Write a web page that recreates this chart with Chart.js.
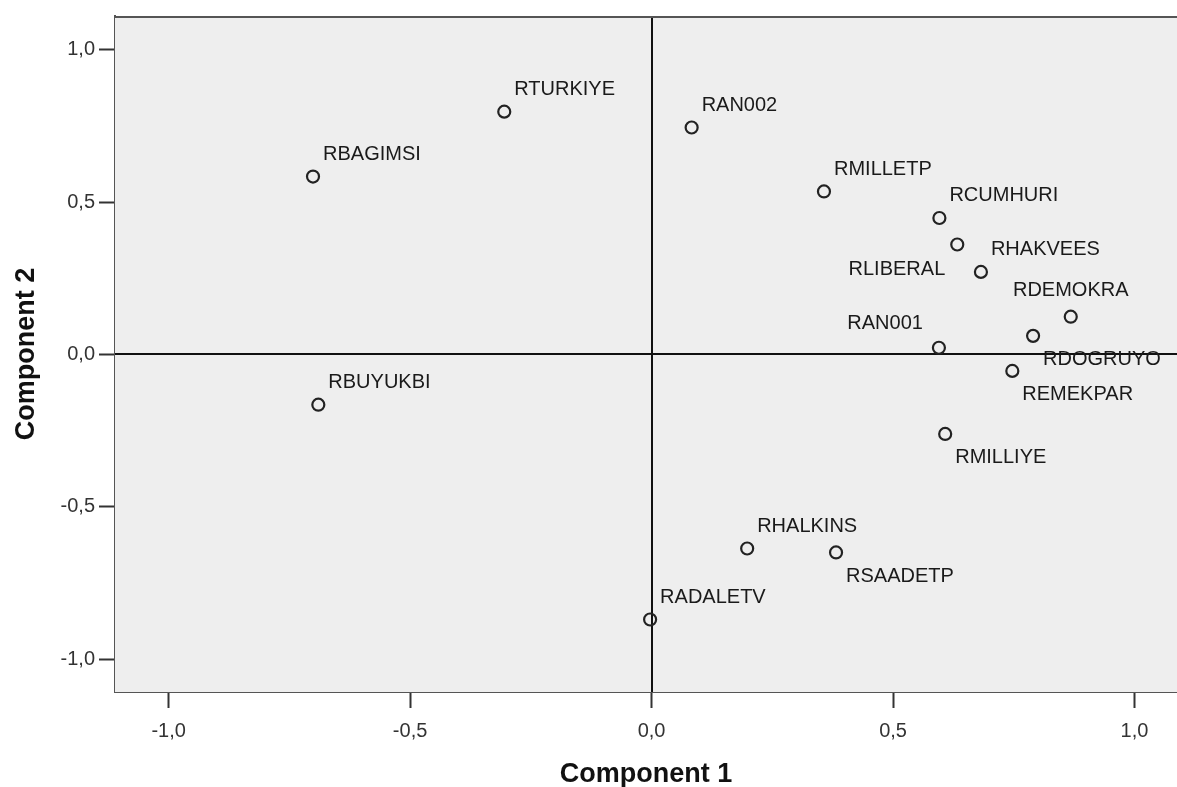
<!DOCTYPE html>
<html>
<head>
<meta charset="utf-8">
<script src="https://cdn.jsdelivr.net/npm/chart.js@4/dist/chart.umd.min.js"></script>
<style>
  html, body { margin: 0; padding: 0; background: #fff; overflow: hidden; }
  canvas { display: block; }
</style>
</head>
<body>
<canvas id="plot" width="1177" height="787"></canvas>
<script>
// component plot in rotated space — loadings
const names = ["RTURKIYE", "RAN002", "RBAGIMSI", "RMILLETP", "RCUMHURI", "RLIBERAL",
  "RHAKVEES", "RDEMOKRA", "RDOGRUYO", "RAN001", "REMEKPAR", "RBUYUKBI",
  "RMILLIYE", "RHALKINS", "RSAADETP", "RADALETV"];
const comp1 = [-0.305, 0.083, -0.701, 0.357, 0.596, 0.633,
  0.682, 0.868, 0.790, 0.595, 0.747, -0.690,
  0.608, 0.198, 0.382, -0.003];
const comp2 = [0.797, 0.745, 0.584, 0.535, 0.448, 0.361,
  0.271, 0.124, 0.061, 0.022, -0.054, -0.165,
  -0.261, -0.637, -0.650, -0.870];
const xTicks = [-1, -0.5, 0, 0.5, 1];
const yTicks = [-1, -0.5, 0, 0.5, 1];

// where each label sits relative to its marker (default: top-right)
const PLACE = { RDOGRUYO: "br", REMEKPAR: "br", RMILLIYE: "br", RSAADETP: "br",
  RLIBERAL: "bl", RAN001: "tl", RDEMOKRA: "tc" };
const OFFS = { tr: [10, -22, "left"], br: [10, 24, "left"], bl: [-12, 25, "right"],
  tl: [-16, -24, "right"], tc: [0, -26, "center"] };

const fmt = (v) => v.toFixed(1).replace(".", ",");

const frame = {
  id: "frame",
  beforeDatasetsDraw(chart) {
    const { ctx, chartArea: a, scales: { x, y } } = chart;
    ctx.save();
    ctx.fillStyle = "#eeeeee";
    ctx.fillRect(a.left, a.top, a.right - a.left, a.bottom - a.top);
    ctx.strokeStyle = "#111";
    ctx.lineWidth = 2;
    const x0 = Math.round(x.getPixelForValue(0)), y0 = Math.round(y.getPixelForValue(0));
    ctx.beginPath();
    ctx.moveTo(x0, a.top); ctx.lineTo(x0, a.bottom);
    ctx.moveTo(a.left, y0); ctx.lineTo(a.right, y0);
    ctx.stroke();
    ctx.strokeStyle = "#555";
    ctx.lineWidth = 2;
    ctx.beginPath();
    ctx.moveTo(a.left, a.top + 1); ctx.lineTo(a.right, a.top + 1);
    ctx.stroke();
    ctx.restore();
  },
  afterDatasetsDraw(chart) {
    const { ctx } = chart;
    const pts = chart.getDatasetMeta(0).data;
    ctx.save();
    ctx.font = "20px 'Liberation Sans', Arial, sans-serif";
    ctx.fillStyle = "#1a1a1a";
    ctx.textBaseline = "middle";
    pts.forEach((p, i) => {
      const o = OFFS[PLACE[names[i]] || "tr"];
      ctx.textAlign = o[2];
      ctx.fillText(names[i], p.x + o[0], p.y + o[1]);
    });
    ctx.restore();
  },
};

const axisCommon = {
  type: "linear",
  grid: { display: true, drawOnChartArea: false, drawTicks: true, tickLength: 16,
    tickWidth: 2, tickColor: "#333" },
  border: { display: true, color: "#555", width: 2 },
  ticks: { font: { family: "'Liberation Sans', Arial, sans-serif", size: 20 },
    color: "#333", callback: (v) => fmt(v) },
  title: { display: true, color: "#111",
    font: { family: "'Liberation Sans', Arial, sans-serif", size: 27, weight: "bold", lineHeight: 0.9 } },
};

new Chart(document.getElementById("plot"), {
  type: "scatter",
  data: {
    datasets: [{
      data: names.map((n, i) => ({ x: comp1[i], y: comp2[i] })),
      pointRadius: 6, pointHoverRadius: 6, pointBorderWidth: 2.2,
      borderColor: "#222", backgroundColor: "rgba(0,0,0,0)",
    }],
  },
  options: {
    responsive: false, animation: false,
    layout: { autoPadding: false, padding: { top: 14, right: 0, left: 0, bottom: 0 } },
    plugins: { legend: { display: false }, tooltip: { enabled: false } },
    scales: {
      x: { ...axisCommon, min: -1.111, max: 1.088,
        ticks: { ...axisCommon.ticks, padding: 11 },
        title: { ...axisCommon.title, text: "Component 1", padding: { top: 19, bottom: 0 } },
        afterBuildTicks: (s) => { s.ticks = xTicks.map((v) => ({ value: v })); },
        afterFit: (s) => { s.height = 95; } },
      y: { ...axisCommon, min: -1.108, max: 1.111,
        ticks: { ...axisCommon.ticks, padding: 4 },
        title: { ...axisCommon.title, text: "Component 2", padding: { top: 14, bottom: 14 } },
        afterBuildTicks: (s) => { s.ticks = yTicks.map((v) => ({ value: v })); },
        afterFit: (s) => { s.width = 115; } },
    },
  },
  plugins: [frame],
});
</script>
</body>
</html>
